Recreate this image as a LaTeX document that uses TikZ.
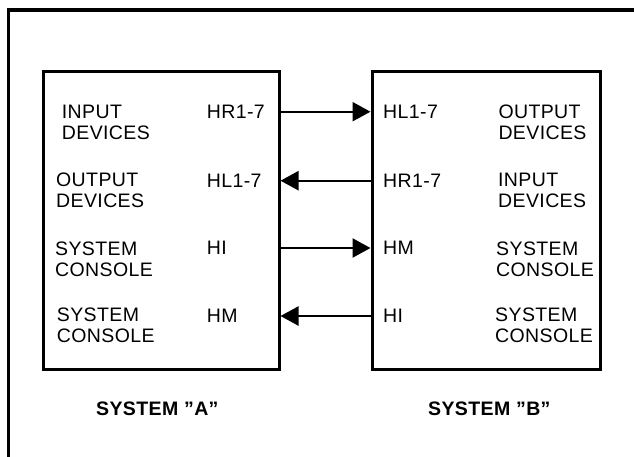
\documentclass[tikz,border=0pt]{standalone}
\usepackage{fontspec}
\setmainfont{Liberation Sans}[LetterSpace=2]
\usetikzlibrary{positioning,arrows.meta}

\begin{document}
\begin{tikzpicture}[
  x=1pt, y=-1pt,
  sysbox/.style={draw, line width=3pt, minimum width=236pt, minimum height=298pt},
  devlbl/.style={anchor=base west, inner sep=0pt, align=left, font=\fontsize{19.5}{21}\selectfont},
  port/.style={anchor=west, inner sep=0pt, text height=13.8pt, text depth=0pt, font=\fontsize{19.5}{21}\selectfont},
  title/.style={anchor=base west, inner sep=0pt, font=\fontsize{19.5}{21}\selectfont\bfseries},
  arr/.style={-{Triangle[length=18pt,width=19pt]}, line width=2.3pt}
]
  \useasboundingbox (0,0) rectangle (634,456);
  % frame
  \draw[line width=3.5pt] (8.5,460) -- (8.5,10) -- (640,10);

  \node[sysbox] (sysA) at (161,220) {};
  \node[sysbox, minimum width=228pt] (sysB) at (486,220) {};

  % system A
  \node[devlbl] (inA) at (61.7,139) {INPUT\\DEVICES};
  \node[devlbl] (outA) at (56,207.7) {OUTPUT\\DEVICES};
  \node[devlbl] (conA1) at (55,276) {SYSTEM\\CONSOLE};
  \node[devlbl] (conA2) at (56.7,342) {SYSTEM\\CONSOLE};
  \node[port] (hrA) at (206.7,111.7) {HR1-7};
  \node[port] (hlA) at (206.7,180.7) {HL1-7};
  \node[port] (hiA) at (206.7,248) {HI};
  \node[port] (hmA) at (206.7,316) {HM};

  % system B
  \node[port] (hlB) at (383,111.7) {HL1-7};
  \node[port] (hrB) at (383,180.7) {HR1-7};
  \node[port] (hmB) at (383,248) {HM};
  \node[port] (hiB) at (383,316) {HI};
  \node[devlbl] (outB) at (498.3,139) {OUTPUT\\DEVICES};
  \node[devlbl] (inB) at (498,207.7) {INPUT\\DEVICES};
  \node[devlbl] (conB1) at (496,276) {SYSTEM\\CONSOLE};
  \node[devlbl] (conB2) at (495,342) {SYSTEM\\CONSOLE};

  \node[title] (tA) at (96,415) {SYSTEM ''A''};
  \node[title] (tB) at (428,415) {SYSTEM ''B''};

  \draw[arr] (sysA.east |- hrA) -- (sysB.west |- hrA);
  \draw[arr] (sysB.west |- hlA) -- (sysA.east |- hlA);
  \draw[arr] (sysA.east |- hiA) -- (sysB.west |- hiA);
  \draw[arr] (sysB.west |- hmA) -- (sysA.east |- hmA);
\end{tikzpicture}
\end{document}
